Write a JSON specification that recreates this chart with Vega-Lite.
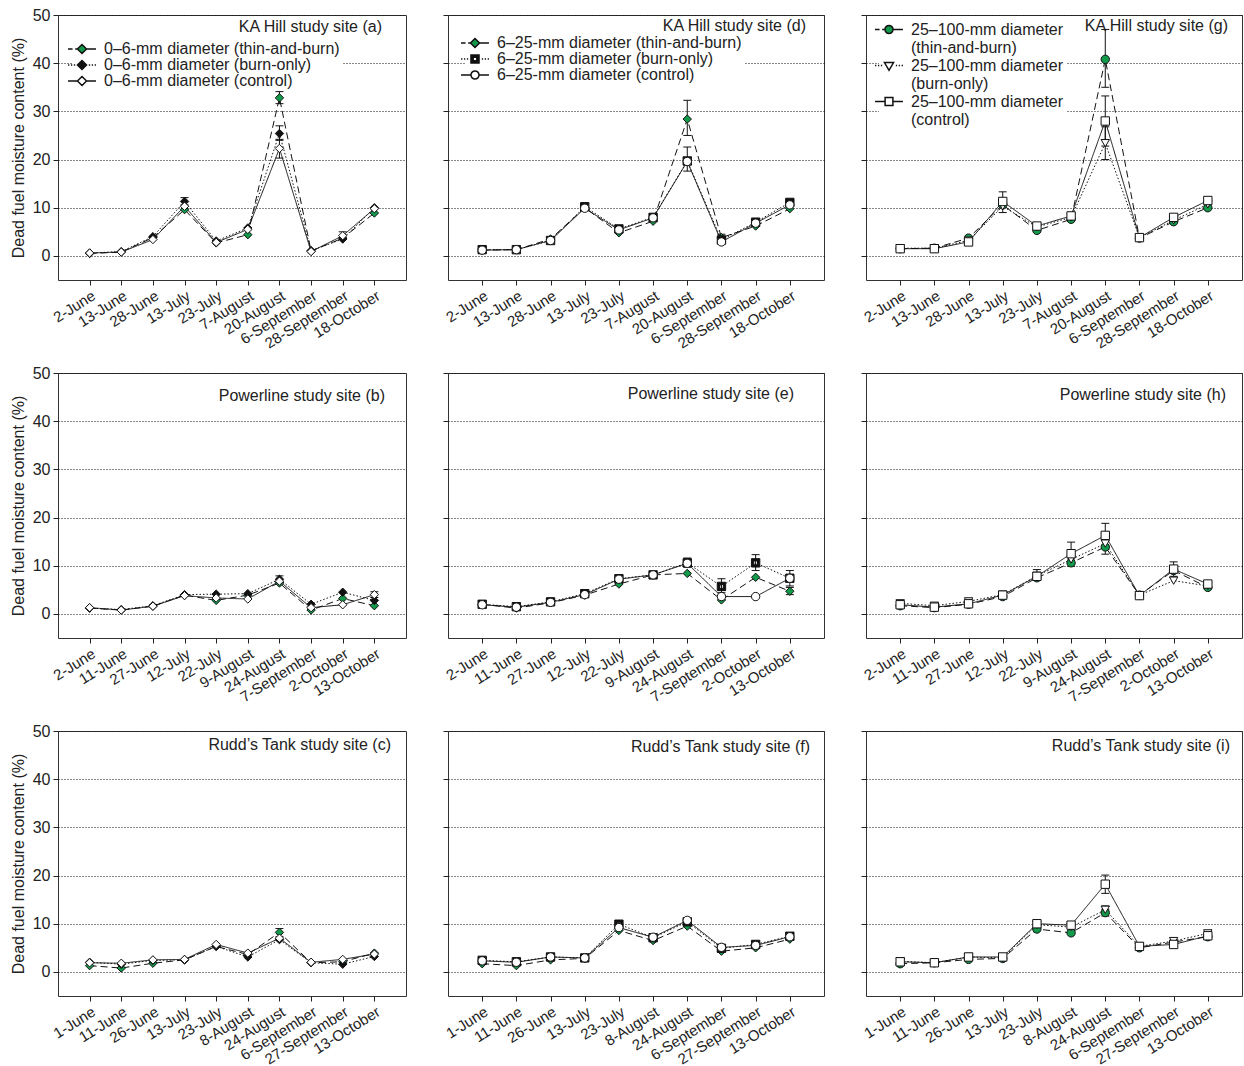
{
"$schema": "https://vega.github.io/schema/vega-lite/v6.json",
"padding": {"left": 9, "top": 6, "right": 0, "bottom": 0},
"background": "white",
"columns": 3,
"spacing": {"row": 93, "column": 42},
"bounds": "flush",
"resolve": {"scale": {"shape": "independent", "fill": "independent", "strokeDash": "independent"}, "legend": {"shape": "independent", "fill": "independent", "strokeDash": "independent"}},
"config": {
  "font": "Liberation Sans",
  "view": {"stroke": "#333", "strokeWidth": 1},
  "axis": {"domain": false, "tickColor": "#222", "tickSize": 5, "labelFont": "Liberation Sans", "labelColor": "#222", "labelFontSize": 16, "titleFont": "Liberation Sans", "titleFontSize": 16, "titleFontWeight": "normal", "titleColor": "#222", "labelPadding": 3, "titlePadding": 6},
  "axisX": {"labelAngle": -32, "labelFontSize": 15, "grid": false},
  "axisY": {"grid": true, "gridColor": "#111", "gridDash": [1, 2], "gridWidth": 1},
  "title": {"anchor": "end", "frame": "group", "orient": "top", "font": "Liberation Sans", "fontSize": 16, "fontWeight": "normal", "color": "#222", "baseline": "top", "offset": 0},
  "legend": {"labelFont": "Liberation Sans", "labelFontSize": 16, "labelColor": "#222", "labelLimit": 500, "symbolSize": 169, "labelOffset": 14, "padding": 2, "fillColor": "white"}
},
"datasets": {
"a": [
{"treatment":"thin-and-burn","date":"2-June","value":0.5},
{"treatment":"thin-and-burn","date":"13-June","value":0.8},
{"treatment":"thin-and-burn","date":"28-June","value":3.8},
{"treatment":"thin-and-burn","date":"13-July","value":9.6},
{"treatment":"thin-and-burn","date":"23-July","value":2.7},
{"treatment":"thin-and-burn","date":"7-August","value":4.4},
{"treatment":"thin-and-burn","date":"20-August","value":32.8,"lo":31.6,"hi":34.1},
{"treatment":"thin-and-burn","date":"6-September","value":1.0},
{"treatment":"thin-and-burn","date":"28-September","value":3.7},
{"treatment":"thin-and-burn","date":"18-October","value":8.9},
{"treatment":"burn-only","date":"2-June","value":0.6},
{"treatment":"burn-only","date":"13-June","value":0.9},
{"treatment":"burn-only","date":"28-June","value":4.0},
{"treatment":"burn-only","date":"13-July","value":11.3,"lo":10.6,"hi":12.1},
{"treatment":"burn-only","date":"23-July","value":3.1},
{"treatment":"burn-only","date":"7-August","value":5.8},
{"treatment":"burn-only","date":"20-August","value":25.4,"lo":24.0,"hi":27.0},
{"treatment":"burn-only","date":"6-September","value":1.1},
{"treatment":"burn-only","date":"28-September","value":3.5},
{"treatment":"burn-only","date":"18-October","value":10.0},
{"treatment":"control","date":"2-June","value":0.6},
{"treatment":"control","date":"13-June","value":0.8},
{"treatment":"control","date":"28-June","value":3.4},
{"treatment":"control","date":"13-July","value":10.3},
{"treatment":"control","date":"23-July","value":2.8},
{"treatment":"control","date":"7-August","value":5.5},
{"treatment":"control","date":"20-August","value":22.3,"lo":20.3,"hi":24.2},
{"treatment":"control","date":"6-September","value":0.9},
{"treatment":"control","date":"28-September","value":4.2,"lo":3.4,"hi":5.0},
{"treatment":"control","date":"18-October","value":9.8}
],
"d": [
{"treatment":"thin-and-burn","date":"2-June","value":1.2},
{"treatment":"thin-and-burn","date":"13-June","value":1.3},
{"treatment":"thin-and-burn","date":"28-June","value":3.5},
{"treatment":"thin-and-burn","date":"13-July","value":10.0},
{"treatment":"thin-and-burn","date":"23-July","value":4.8},
{"treatment":"thin-and-burn","date":"7-August","value":7.2},
{"treatment":"thin-and-burn","date":"20-August","value":28.4,"lo":25.0,"hi":32.3},
{"treatment":"thin-and-burn","date":"6-September","value":3.8,"lo":3.2,"hi":4.5},
{"treatment":"thin-and-burn","date":"28-September","value":6.2},
{"treatment":"thin-and-burn","date":"18-October","value":9.8},
{"treatment":"burn-only","date":"2-June","value":1.3},
{"treatment":"burn-only","date":"13-June","value":1.3},
{"treatment":"burn-only","date":"28-June","value":3.2},
{"treatment":"burn-only","date":"13-July","value":10.2},
{"treatment":"burn-only","date":"23-July","value":5.6},
{"treatment":"burn-only","date":"7-August","value":8.0},
{"treatment":"burn-only","date":"20-August","value":19.7,"lo":17.6,"hi":22.6},
{"treatment":"burn-only","date":"6-September","value":3.3},
{"treatment":"burn-only","date":"28-September","value":7.0},
{"treatment":"burn-only","date":"18-October","value":11.1},
{"treatment":"control","date":"2-June","value":1.2},
{"treatment":"control","date":"13-June","value":1.3},
{"treatment":"control","date":"28-June","value":3.2},
{"treatment":"control","date":"13-July","value":9.9},
{"treatment":"control","date":"23-July","value":5.4},
{"treatment":"control","date":"7-August","value":7.9},
{"treatment":"control","date":"20-August","value":19.6},
{"treatment":"control","date":"6-September","value":2.9},
{"treatment":"control","date":"28-September","value":6.8},
{"treatment":"control","date":"18-October","value":10.6}
],
"g": [
{"treatment":"thin-and-burn","date":"2-June","value":1.5},
{"treatment":"thin-and-burn","date":"13-June","value":1.6},
{"treatment":"thin-and-burn","date":"28-June","value":3.7},
{"treatment":"thin-and-burn","date":"13-July","value":10.6},
{"treatment":"thin-and-burn","date":"23-July","value":5.3},
{"treatment":"thin-and-burn","date":"7-August","value":7.6},
{"treatment":"thin-and-burn","date":"20-August","value":40.8,"lo":35.0,"hi":47.0},
{"treatment":"thin-and-burn","date":"6-September","value":3.7},
{"treatment":"thin-and-burn","date":"28-September","value":7.1},
{"treatment":"thin-and-burn","date":"18-October","value":10.0},
{"treatment":"burn-only","date":"2-June","value":1.6},
{"treatment":"burn-only","date":"13-June","value":1.6},
{"treatment":"burn-only","date":"28-June","value":3.2},
{"treatment":"burn-only","date":"13-July","value":10.3},
{"treatment":"burn-only","date":"23-July","value":6.0},
{"treatment":"burn-only","date":"7-August","value":8.0},
{"treatment":"burn-only","date":"20-August","value":23.4,"lo":20.0,"hi":26.8},
{"treatment":"burn-only","date":"6-September","value":3.8},
{"treatment":"burn-only","date":"28-September","value":7.4},
{"treatment":"burn-only","date":"18-October","value":10.7},
{"treatment":"control","date":"2-June","value":1.5},
{"treatment":"control","date":"13-June","value":1.5},
{"treatment":"control","date":"28-June","value":2.9},
{"treatment":"control","date":"13-July","value":11.3,"lo":9.0,"hi":13.3},
{"treatment":"control","date":"23-July","value":6.2},
{"treatment":"control","date":"7-August","value":8.3},
{"treatment":"control","date":"20-August","value":28.0,"lo":22.8,"hi":33.2},
{"treatment":"control","date":"6-September","value":3.8},
{"treatment":"control","date":"28-September","value":8.0},
{"treatment":"control","date":"18-October","value":11.5}
],
"b": [
{"treatment":"thin-and-burn","date":"2-June","value":1.2},
{"treatment":"thin-and-burn","date":"11-June","value":0.8},
{"treatment":"thin-and-burn","date":"27-June","value":1.6},
{"treatment":"thin-and-burn","date":"12-July","value":3.9},
{"treatment":"thin-and-burn","date":"22-July","value":2.8},
{"treatment":"thin-and-burn","date":"9-August","value":3.9},
{"treatment":"thin-and-burn","date":"24-August","value":6.4},
{"treatment":"thin-and-burn","date":"7-September","value":0.8},
{"treatment":"thin-and-burn","date":"2-October","value":3.2},
{"treatment":"thin-and-burn","date":"13-October","value":1.7},
{"treatment":"burn-only","date":"2-June","value":1.2},
{"treatment":"burn-only","date":"11-June","value":0.9},
{"treatment":"burn-only","date":"27-June","value":1.7},
{"treatment":"burn-only","date":"12-July","value":4.0},
{"treatment":"burn-only","date":"22-July","value":4.1},
{"treatment":"burn-only","date":"9-August","value":4.2},
{"treatment":"burn-only","date":"24-August","value":7.2,"lo":6.6,"hi":7.9},
{"treatment":"burn-only","date":"7-September","value":2.0},
{"treatment":"burn-only","date":"2-October","value":4.5},
{"treatment":"burn-only","date":"13-October","value":2.8},
{"treatment":"control","date":"2-June","value":1.3},
{"treatment":"control","date":"11-June","value":0.8},
{"treatment":"control","date":"27-June","value":1.6},
{"treatment":"control","date":"12-July","value":3.8},
{"treatment":"control","date":"22-July","value":3.3},
{"treatment":"control","date":"9-August","value":3.1},
{"treatment":"control","date":"24-August","value":6.8},
{"treatment":"control","date":"7-September","value":1.3},
{"treatment":"control","date":"2-October","value":1.9},
{"treatment":"control","date":"13-October","value":4.0,"lo":3.4,"hi":4.6}
],
"e": [
{"treatment":"thin-and-burn","date":"2-June","value":2.0},
{"treatment":"thin-and-burn","date":"11-June","value":1.2},
{"treatment":"thin-and-burn","date":"27-June","value":2.3},
{"treatment":"thin-and-burn","date":"12-July","value":3.9},
{"treatment":"thin-and-burn","date":"22-July","value":6.2},
{"treatment":"thin-and-burn","date":"9-August","value":8.1},
{"treatment":"thin-and-burn","date":"24-August","value":8.4},
{"treatment":"thin-and-burn","date":"7-September","value":2.9},
{"treatment":"thin-and-burn","date":"2-October","value":7.6},
{"treatment":"thin-and-burn","date":"13-October","value":4.7,"lo":4.0,"hi":5.5},
{"treatment":"burn-only","date":"2-June","value":2.0},
{"treatment":"burn-only","date":"11-June","value":1.5},
{"treatment":"burn-only","date":"27-June","value":2.5},
{"treatment":"burn-only","date":"12-July","value":4.2},
{"treatment":"burn-only","date":"22-July","value":7.3},
{"treatment":"burn-only","date":"9-August","value":8.1},
{"treatment":"burn-only","date":"24-August","value":10.6,"lo":9.7,"hi":11.6},
{"treatment":"burn-only","date":"7-September","value":5.7,"lo":4.4,"hi":7.3},
{"treatment":"burn-only","date":"2-October","value":10.6,"lo":9.0,"hi":12.3},
{"treatment":"burn-only","date":"13-October","value":7.4,"lo":5.8,"hi":9.0},
{"treatment":"control","date":"2-June","value":1.9},
{"treatment":"control","date":"11-June","value":1.4},
{"treatment":"control","date":"27-June","value":2.4},
{"treatment":"control","date":"12-July","value":4.0},
{"treatment":"control","date":"22-July","value":7.2},
{"treatment":"control","date":"9-August","value":8.1},
{"treatment":"control","date":"24-August","value":10.5},
{"treatment":"control","date":"7-September","value":3.6},
{"treatment":"control","date":"2-October","value":3.6},
{"treatment":"control","date":"13-October","value":7.4}
],
"h": [
{"treatment":"thin-and-burn","date":"2-June","value":1.7},
{"treatment":"thin-and-burn","date":"11-June","value":1.3},
{"treatment":"thin-and-burn","date":"27-June","value":2.0},
{"treatment":"thin-and-burn","date":"12-July","value":3.6},
{"treatment":"thin-and-burn","date":"22-July","value":7.5},
{"treatment":"thin-and-burn","date":"9-August","value":10.6,"lo":9.9,"hi":11.4},
{"treatment":"thin-and-burn","date":"24-August","value":13.9,"lo":12.4,"hi":15.3},
{"treatment":"thin-and-burn","date":"7-September","value":3.9},
{"treatment":"thin-and-burn","date":"2-October","value":9.0},
{"treatment":"thin-and-burn","date":"13-October","value":5.5},
{"treatment":"burn-only","date":"2-June","value":2.2},
{"treatment":"burn-only","date":"11-June","value":1.7},
{"treatment":"burn-only","date":"27-June","value":2.6},
{"treatment":"burn-only","date":"12-July","value":4.0},
{"treatment":"burn-only","date":"22-July","value":7.9,"lo":7.0,"hi":9.2},
{"treatment":"burn-only","date":"9-August","value":11.3},
{"treatment":"burn-only","date":"24-August","value":14.6},
{"treatment":"burn-only","date":"7-September","value":3.9},
{"treatment":"burn-only","date":"2-October","value":6.9},
{"treatment":"burn-only","date":"13-October","value":5.8},
{"treatment":"control","date":"2-June","value":1.9},
{"treatment":"control","date":"11-June","value":1.4},
{"treatment":"control","date":"27-June","value":2.1},
{"treatment":"control","date":"12-July","value":3.9},
{"treatment":"control","date":"22-July","value":7.8},
{"treatment":"control","date":"9-August","value":12.5,"lo":10.3,"hi":14.9},
{"treatment":"control","date":"24-August","value":16.3,"lo":13.8,"hi":18.8},
{"treatment":"control","date":"7-September","value":3.8},
{"treatment":"control","date":"2-October","value":9.3,"lo":7.8,"hi":10.8},
{"treatment":"control","date":"13-October","value":6.2}
],
"c": [
{"treatment":"thin-and-burn","date":"1-June","value":1.3},
{"treatment":"thin-and-burn","date":"11-June","value":0.8},
{"treatment":"thin-and-burn","date":"26-June","value":1.8},
{"treatment":"thin-and-burn","date":"13-July","value":2.5},
{"treatment":"thin-and-burn","date":"23-July","value":5.3},
{"treatment":"thin-and-burn","date":"8-August","value":3.6},
{"treatment":"thin-and-burn","date":"24-August","value":8.2,"lo":7.3,"hi":9.0},
{"treatment":"thin-and-burn","date":"6-September","value":1.9},
{"treatment":"thin-and-burn","date":"27-September","value":2.1},
{"treatment":"thin-and-burn","date":"13-October","value":3.9},
{"treatment":"burn-only","date":"1-June","value":2.0},
{"treatment":"burn-only","date":"11-June","value":1.6},
{"treatment":"burn-only","date":"26-June","value":2.4},
{"treatment":"burn-only","date":"13-July","value":2.5},
{"treatment":"burn-only","date":"23-July","value":5.3},
{"treatment":"burn-only","date":"8-August","value":3.1},
{"treatment":"burn-only","date":"24-August","value":6.7},
{"treatment":"burn-only","date":"6-September","value":1.9},
{"treatment":"burn-only","date":"27-September","value":1.6},
{"treatment":"burn-only","date":"13-October","value":3.2},
{"treatment":"control","date":"1-June","value":1.9},
{"treatment":"control","date":"11-June","value":1.8},
{"treatment":"control","date":"26-June","value":2.5},
{"treatment":"control","date":"13-July","value":2.6},
{"treatment":"control","date":"23-July","value":5.7},
{"treatment":"control","date":"8-August","value":3.9},
{"treatment":"control","date":"24-August","value":7.0},
{"treatment":"control","date":"6-September","value":2.0},
{"treatment":"control","date":"27-September","value":2.6},
{"treatment":"control","date":"13-October","value":3.7}
],
"f": [
{"treatment":"thin-and-burn","date":"1-June","value":1.7},
{"treatment":"thin-and-burn","date":"11-June","value":1.3},
{"treatment":"thin-and-burn","date":"26-June","value":2.5},
{"treatment":"thin-and-burn","date":"13-July","value":2.8},
{"treatment":"thin-and-burn","date":"23-July","value":8.6},
{"treatment":"thin-and-burn","date":"8-August","value":6.5},
{"treatment":"thin-and-burn","date":"24-August","value":9.5},
{"treatment":"thin-and-burn","date":"6-September","value":4.3},
{"treatment":"thin-and-burn","date":"27-September","value":5.0},
{"treatment":"thin-and-burn","date":"13-October","value":6.8},
{"treatment":"burn-only","date":"1-June","value":2.4},
{"treatment":"burn-only","date":"11-June","value":2.1},
{"treatment":"burn-only","date":"26-June","value":3.1},
{"treatment":"burn-only","date":"13-July","value":2.9},
{"treatment":"burn-only","date":"23-July","value":9.9},
{"treatment":"burn-only","date":"8-August","value":7.1},
{"treatment":"burn-only","date":"24-August","value":10.4},
{"treatment":"burn-only","date":"6-September","value":4.9},
{"treatment":"burn-only","date":"27-September","value":5.7},
{"treatment":"burn-only","date":"13-October","value":7.4},
{"treatment":"control","date":"1-June","value":2.3},
{"treatment":"control","date":"11-June","value":2.0},
{"treatment":"control","date":"26-June","value":3.1},
{"treatment":"control","date":"13-July","value":2.9},
{"treatment":"control","date":"23-July","value":9.2},
{"treatment":"control","date":"8-August","value":7.2},
{"treatment":"control","date":"24-August","value":10.7},
{"treatment":"control","date":"6-September","value":5.1},
{"treatment":"control","date":"27-September","value":5.5},
{"treatment":"control","date":"13-October","value":7.3}
],
"i": [
{"treatment":"thin-and-burn","date":"1-June","value":1.7},
{"treatment":"thin-and-burn","date":"11-June","value":1.9},
{"treatment":"thin-and-burn","date":"26-June","value":2.6},
{"treatment":"thin-and-burn","date":"13-July","value":2.8},
{"treatment":"thin-and-burn","date":"23-July","value":8.9},
{"treatment":"thin-and-burn","date":"8-August","value":8.1},
{"treatment":"thin-and-burn","date":"24-August","value":12.3,"lo":11.6,"hi":13.0},
{"treatment":"thin-and-burn","date":"6-September","value":5.0},
{"treatment":"thin-and-burn","date":"27-September","value":6.2},
{"treatment":"thin-and-burn","date":"13-October","value":7.3},
{"treatment":"burn-only","date":"1-June","value":2.2},
{"treatment":"burn-only","date":"11-June","value":1.9},
{"treatment":"burn-only","date":"26-June","value":3.1},
{"treatment":"burn-only","date":"13-July","value":2.9},
{"treatment":"burn-only","date":"23-July","value":9.8},
{"treatment":"burn-only","date":"8-August","value":9.3},
{"treatment":"burn-only","date":"24-August","value":12.9,"lo":12.1,"hi":13.7},
{"treatment":"burn-only","date":"6-September","value":5.3},
{"treatment":"burn-only","date":"27-September","value":6.4},
{"treatment":"burn-only","date":"13-October","value":8.0},
{"treatment":"control","date":"1-June","value":2.1},
{"treatment":"control","date":"11-June","value":1.9},
{"treatment":"control","date":"26-June","value":3.1},
{"treatment":"control","date":"13-July","value":3.1},
{"treatment":"control","date":"23-July","value":10.0},
{"treatment":"control","date":"8-August","value":9.7},
{"treatment":"control","date":"24-August","value":18.2,"lo":16.3,"hi":20.1},
{"treatment":"control","date":"6-September","value":5.3},
{"treatment":"control","date":"27-September","value":5.7},
{"treatment":"control","date":"13-October","value":7.5}
]
},
"concat": [
{
 "width": 348, "height": 265,
 "data": {"name": "a"},
 "title": {"text": "KA Hill study site (a)", "dx": -24, "dy": 31.5},
 "resolve": {"scale": {"shape": "independent", "fill": "independent"}},
 "encoding": {
  "x": {"field": "date", "type": "ordinal", "scale": {"type": "point", "padding": 1, "domain": ["2-June","13-June","28-June","13-July","23-July","7-August","20-August","6-September","28-September","18-October"]}, "axis": {"title": null}}
 },
 "layer": [
  {"mark": {"type": "line", "color": "#111", "strokeWidth": 1}, "encoding": {"y": {"field": "value", "type": "quantitative", "scale": {"domain": [-5, 50], "nice": false, "zero": false}, "axis": {"title": "Dead fuel moisture content (%)", "values": [0, 10, 20, 30, 40, 50]}}, "strokeDash": {"field": "treatment", "type": "nominal", "scale": {"domain": ["burn-only","control","thin-and-burn"], "range": [[1.5,2],[1,0],[7,4]]}, "legend": null}, "order": {"value": null}}},
  {"transform": [{"filter": "isValid(datum.lo)"}], "mark": {"type": "rule", "color": "#111", "strokeWidth": 1}, "encoding": {"y": {"field": "lo", "type": "quantitative", "scale": {"domain": [-5, 50], "nice": false, "zero": false}, "axis": {"title": "Dead fuel moisture content (%)", "values": [0, 10, 20, 30, 40, 50]}}, "y2": {"field": "hi"}}},
  {"transform": [{"filter": "isValid(datum.lo)"}], "mark": {"type": "tick", "color": "#111", "thickness": 1, "size": 8, "opacity": 1}, "encoding": {"y": {"field": "lo", "type": "quantitative", "scale": {"domain": [-5, 50], "nice": false, "zero": false}, "axis": {"title": "Dead fuel moisture content (%)", "values": [0, 10, 20, 30, 40, 50]}}}},
  {"transform": [{"filter": "isValid(datum.hi)"}], "mark": {"type": "tick", "color": "#111", "thickness": 1, "size": 8, "opacity": 1}, "encoding": {"y": {"field": "hi", "type": "quantitative", "scale": {"domain": [-5, 50], "nice": false, "zero": false}, "axis": {"title": "Dead fuel moisture content (%)", "values": [0, 10, 20, 30, 40, 50]}}}},
  {"mark": {"type": "point", "filled": true, "size": 70, "stroke": "#111", "strokeWidth": 1, "opacity": 1}, "encoding": {
    "y": {"field": "value", "type": "quantitative", "scale": {"domain": [-5, 50], "nice": false, "zero": false}, "axis": {"title": "Dead fuel moisture content (%)", "values": [0, 10, 20, 30, 40, 50]}},
    "shape": {"field": "treatment", "type": "nominal", "scale": {"domain": ["burn-only","control","thin-and-burn"], "range": ["diamond","diamond","diamond"]}, "legend": null},
    "fill": {"field": "treatment", "type": "nominal", "scale": {"domain": ["burn-only","control","thin-and-burn"], "range": ["#111111","#ffffff","#12994a"]}, "legend": null}}},
  {"transform": [{"filter": "false"}], "mark": {"type": "point", "filled": true, "size": 169, "stroke": "#111", "strokeWidth": 1, "opacity": 1}, "encoding": {
    "shape": {"field": "treatment", "type": "nominal", "scale": {"domain": ["thin-and-burn","burn-only","control"], "range": ["M-2.15,0H-1.45M-1.05,0H-0.7M0.7,0H2.15M0,-0.7L0.7,0L0,0.7L-0.7,0Z","M-2.15,0H-1.95M-1.7,0H-1.5M-1.25,0H-1.05M1.05,0H1.25M1.5,0H1.7M1.95,0H2.15M0,-0.7L0.7,0L0,0.7L-0.7,0Z","M-2.15,0H-0.7M0.7,0H2.15M0,-0.7L0.7,0L0,0.7L-0.7,0Z"]},
      "legend": {"title": null, "orient": "none", "legendX": 14, "legendY": 24, "rowPadding": -4, "labelExpr": "'0–6-mm diameter (' + datum.label + ')'"}},
    "fill": {"field": "treatment", "type": "nominal", "scale": {"domain": ["thin-and-burn","burn-only","control"], "range": ["#12994a","#111111","#ffffff"]},
      "legend": {"title": null, "orient": "none", "legendX": 14, "legendY": 24, "rowPadding": -4, "labelExpr": "'0–6-mm diameter (' + datum.label + ')'"}}}}
 ]
},
{
 "width": 376, "height": 265,
 "data": {"name": "d"},
 "title": {"text": "KA Hill study site (d)", "dx": -18, "dy": 23},
 "resolve": {"scale": {"shape": "independent", "fill": "independent"}},
 "encoding": {
  "x": {"field": "date", "type": "ordinal", "scale": {"type": "point", "padding": 1, "domain": ["2-June","13-June","28-June","13-July","23-July","7-August","20-August","6-September","28-September","18-October"]}, "axis": {"title": null}}
 },
 "layer": [
  {"mark": {"type": "line", "color": "#111", "strokeWidth": 1}, "encoding": {"y": {"field": "value", "type": "quantitative", "scale": {"domain": [-5, 50], "nice": false, "zero": false}, "axis": {"title": null, "labels": false, "values": [0, 10, 20, 30, 40, 50]}}, "strokeDash": {"field": "treatment", "type": "nominal", "scale": {"domain": ["burn-only","control","thin-and-burn"], "range": [[1.5,2],[1,0],[7,4]]}, "legend": null}, "order": {"value": null}}},
  {"transform": [{"filter": "isValid(datum.lo)"}], "mark": {"type": "rule", "color": "#111", "strokeWidth": 1}, "encoding": {"y": {"field": "lo", "type": "quantitative", "scale": {"domain": [-5, 50], "nice": false, "zero": false}, "axis": {"title": null, "labels": false, "values": [0, 10, 20, 30, 40, 50]}}, "y2": {"field": "hi"}}},
  {"transform": [{"filter": "isValid(datum.lo)"}], "mark": {"type": "tick", "color": "#111", "thickness": 1, "size": 8, "opacity": 1}, "encoding": {"y": {"field": "lo", "type": "quantitative", "scale": {"domain": [-5, 50], "nice": false, "zero": false}, "axis": {"title": null, "labels": false, "values": [0, 10, 20, 30, 40, 50]}}}},
  {"transform": [{"filter": "isValid(datum.hi)"}], "mark": {"type": "tick", "color": "#111", "thickness": 1, "size": 8, "opacity": 1}, "encoding": {"y": {"field": "hi", "type": "quantitative", "scale": {"domain": [-5, 50], "nice": false, "zero": false}, "axis": {"title": null, "labels": false, "values": [0, 10, 20, 30, 40, 50]}}}},
  {"mark": {"type": "point", "filled": true, "size": 70, "stroke": "#111", "strokeWidth": 1, "opacity": 1}, "encoding": {
    "y": {"field": "value", "type": "quantitative", "scale": {"domain": [-5, 50], "nice": false, "zero": false}, "axis": {"title": null, "labels": false, "values": [0, 10, 20, 30, 40, 50]}},
    "shape": {"field": "treatment", "type": "nominal", "scale": {"domain": ["burn-only","control","thin-and-burn"], "range": ["M-1,-1H1V1H-1ZM-0.45,-0.45V0.45H0.45V-0.45Z","circle","diamond"]}, "legend": null},
    "fill": {"field": "treatment", "type": "nominal", "scale": {"domain": ["burn-only","control","thin-and-burn"], "range": ["#111111","#ffffff","#12994a"]}, "legend": null}}},
  {"transform": [{"filter": "false"}], "mark": {"type": "point", "filled": true, "size": 169, "stroke": "#111", "strokeWidth": 1, "opacity": 1}, "encoding": {
    "shape": {"field": "treatment", "type": "nominal", "scale": {"domain": ["thin-and-burn","burn-only","control"], "range": ["M-2.15,0H-1.45M-1.05,0H-0.7M0.7,0H2.15M0,-0.7L0.7,0L0,0.7L-0.7,0Z","M-2.15,0H-1.95M-1.7,0H-1.5M-1.25,0H-1.05M1.05,0H1.25M1.5,0H1.7M1.95,0H2.15M-0.62,-0.62H0.62V0.62H-0.62ZM-0.28,-0.28V0.28H0.28V-0.28Z","M-2.15,0H-0.62M0.62,0H2.15M0.62,0A0.62,0.62,0,1,1,-0.62,0A0.62,0.62,0,1,1,0.62,0Z"]},
      "legend": {"title": null, "orient": "none", "legendX": 17, "legendY": 18, "rowPadding": -1.5, "labelExpr": "'6–25-mm diameter (' + datum.label + ')'"}},
    "fill": {"field": "treatment", "type": "nominal", "scale": {"domain": ["thin-and-burn","burn-only","control"], "range": ["#12994a","#111111","#ffffff"]},
      "legend": {"title": null, "orient": "none", "legendX": 17, "legendY": 18, "rowPadding": -1.5, "labelExpr": "'6–25-mm diameter (' + datum.label + ')'"}}}}
 ]
},
{
 "width": 376, "height": 265,
 "data": {"name": "g"},
 "title": {"text": "KA Hill study site (g)", "dx": -14, "dy": 23},
 "resolve": {"scale": {"shape": "independent", "fill": "independent"}},
 "encoding": {
  "x": {"field": "date", "type": "ordinal", "scale": {"type": "point", "padding": 1, "domain": ["2-June","13-June","28-June","13-July","23-July","7-August","20-August","6-September","28-September","18-October"]}, "axis": {"title": null}}
 },
 "layer": [
  {"mark": {"type": "line", "color": "#111", "strokeWidth": 1}, "encoding": {"y": {"field": "value", "type": "quantitative", "scale": {"domain": [-5, 50], "nice": false, "zero": false}, "axis": {"title": null, "labels": false, "values": [0, 10, 20, 30, 40, 50]}}, "strokeDash": {"field": "treatment", "type": "nominal", "scale": {"domain": ["burn-only","control","thin-and-burn"], "range": [[1.5,2],[1,0],[7,4]]}, "legend": null}, "order": {"value": null}}},
  {"transform": [{"filter": "isValid(datum.lo)"}], "mark": {"type": "rule", "color": "#111", "strokeWidth": 1}, "encoding": {"y": {"field": "lo", "type": "quantitative", "scale": {"domain": [-5, 50], "nice": false, "zero": false}, "axis": {"title": null, "labels": false, "values": [0, 10, 20, 30, 40, 50]}}, "y2": {"field": "hi"}}},
  {"transform": [{"filter": "isValid(datum.lo)"}], "mark": {"type": "tick", "color": "#111", "thickness": 1, "size": 8, "opacity": 1}, "encoding": {"y": {"field": "lo", "type": "quantitative", "scale": {"domain": [-5, 50], "nice": false, "zero": false}, "axis": {"title": null, "labels": false, "values": [0, 10, 20, 30, 40, 50]}}}},
  {"transform": [{"filter": "isValid(datum.hi)"}], "mark": {"type": "tick", "color": "#111", "thickness": 1, "size": 8, "opacity": 1}, "encoding": {"y": {"field": "hi", "type": "quantitative", "scale": {"domain": [-5, 50], "nice": false, "zero": false}, "axis": {"title": null, "labels": false, "values": [0, 10, 20, 30, 40, 50]}}}},
  {"mark": {"type": "point", "filled": true, "size": 70, "stroke": "#111", "strokeWidth": 1, "opacity": 1}, "encoding": {
    "y": {"field": "value", "type": "quantitative", "scale": {"domain": [-5, 50], "nice": false, "zero": false}, "axis": {"title": null, "labels": false, "values": [0, 10, 20, 30, 40, 50]}},
    "shape": {"field": "treatment", "type": "nominal", "scale": {"domain": ["burn-only","control","thin-and-burn"], "range": ["triangle-down","square","circle"]}, "legend": null},
    "fill": {"field": "treatment", "type": "nominal", "scale": {"domain": ["burn-only","control","thin-and-burn"], "range": ["#ffffff","#ffffff","#12994a"]}, "legend": null}}},
  {"transform": [{"filter": "false"}], "mark": {"type": "point", "filled": true, "size": 169, "stroke": "#111", "strokeWidth": 1, "opacity": 1}, "encoding": {
    "shape": {"field": "treatment", "type": "nominal", "scale": {"domain": ["thin-and-burn","burn-only","control"], "range": ["M-2.15,0H-1.45M-1.05,0H-0.62M0.62,0H2.15M0.62,0A0.62,0.62,0,1,1,-0.62,0A0.62,0.62,0,1,1,0.62,0Z","M-2.15,0H-1.95M-1.7,0H-1.5M-1.25,0H-1.05M1.05,0H1.25M1.5,0H1.7M1.95,0H2.15M-0.7,-0.45H0.7L0,0.75Z","M-2.15,0H-0.6M0.6,0H2.15M-0.6,-0.6H0.6V0.6H-0.6Z"]},
      "legend": {"title": null, "orient": "none", "legendX": 13, "legendY": 4.5, "rowPadding": 2, "labelExpr": "['25–100-mm diameter', '(' + datum.label + ')']", "encode": {"labels": {"dy": {"value": 9.5}, "lineHeight": {"value": 19}}}}},
    "fill": {"field": "treatment", "type": "nominal", "scale": {"domain": ["thin-and-burn","burn-only","control"], "range": ["#12994a","#ffffff","#ffffff"]},
      "legend": {"title": null, "orient": "none", "legendX": 13, "legendY": 4.5, "rowPadding": 2, "labelExpr": "['25–100-mm diameter', '(' + datum.label + ')']", "encode": {"labels": {"dy": {"value": 9.5}, "lineHeight": {"value": 19}}}}}}}
 ]
},
{
 "width": 348, "height": 265,
 "data": {"name": "b"},
 "title": {"text": "Powerline study site (b)", "dx": -21, "dy": 42.7},
 "encoding": {
  "x": {"field": "date", "type": "ordinal", "scale": {"type": "point", "padding": 1, "domain": ["2-June","11-June","27-June","12-July","22-July","9-August","24-August","7-September","2-October","13-October"]}, "axis": {"title": null}}
 },
 "layer": [
  {"mark": {"type": "line", "color": "#111", "strokeWidth": 1}, "encoding": {"y": {"field": "value", "type": "quantitative", "scale": {"domain": [-5, 50], "nice": false, "zero": false}, "axis": {"title": "Dead fuel moisture content (%)", "values": [0, 10, 20, 30, 40, 50]}}, "strokeDash": {"field": "treatment", "type": "nominal", "scale": {"domain": ["thin-and-burn","burn-only","control"], "range": [[7,4],[1.5,2],[1,0]]}, "legend": null}, "order": {"value": null}}},
  {"transform": [{"filter": "isValid(datum.lo)"}], "mark": {"type": "rule", "color": "#111", "strokeWidth": 1}, "encoding": {"y": {"field": "lo", "type": "quantitative", "scale": {"domain": [-5, 50], "nice": false, "zero": false}, "axis": {"title": "Dead fuel moisture content (%)", "values": [0, 10, 20, 30, 40, 50]}}, "y2": {"field": "hi"}}},
  {"transform": [{"filter": "isValid(datum.lo)"}], "mark": {"type": "tick", "color": "#111", "thickness": 1, "size": 8, "opacity": 1}, "encoding": {"y": {"field": "lo", "type": "quantitative", "scale": {"domain": [-5, 50], "nice": false, "zero": false}, "axis": {"title": "Dead fuel moisture content (%)", "values": [0, 10, 20, 30, 40, 50]}}}},
  {"transform": [{"filter": "isValid(datum.hi)"}], "mark": {"type": "tick", "color": "#111", "thickness": 1, "size": 8, "opacity": 1}, "encoding": {"y": {"field": "hi", "type": "quantitative", "scale": {"domain": [-5, 50], "nice": false, "zero": false}, "axis": {"title": "Dead fuel moisture content (%)", "values": [0, 10, 20, 30, 40, 50]}}}},
  {"mark": {"type": "point", "filled": true, "size": 70, "stroke": "#111", "strokeWidth": 1, "opacity": 1}, "encoding": {
    "y": {"field": "value", "type": "quantitative", "scale": {"domain": [-5, 50], "nice": false, "zero": false}, "axis": {"title": "Dead fuel moisture content (%)", "values": [0, 10, 20, 30, 40, 50]}},
    "shape": {"field": "treatment", "type": "nominal", "scale": {"domain": ["thin-and-burn","burn-only","control"], "range": ["diamond","diamond","diamond"]}, "legend": null},
    "fill": {"field": "treatment", "type": "nominal", "scale": {"domain": ["thin-and-burn","burn-only","control"], "range": ["#12994a","#111111","#ffffff"]}, "legend": null}}}
 ]
},
{
 "width": 376, "height": 265,
 "data": {"name": "e"},
 "title": {"text": "Powerline study site (e)", "dx": -30, "dy": 33.3},
 "encoding": {
  "x": {"field": "date", "type": "ordinal", "scale": {"type": "point", "padding": 1, "domain": ["2-June","11-June","27-June","12-July","22-July","9-August","24-August","7-September","2-October","13-October"]}, "axis": {"title": null}}
 },
 "layer": [
  {"mark": {"type": "line", "color": "#111", "strokeWidth": 1}, "encoding": {"y": {"field": "value", "type": "quantitative", "scale": {"domain": [-5, 50], "nice": false, "zero": false}, "axis": {"title": null, "labels": false, "values": [0, 10, 20, 30, 40, 50]}}, "strokeDash": {"field": "treatment", "type": "nominal", "scale": {"domain": ["thin-and-burn","burn-only","control"], "range": [[7,4],[1.5,2],[1,0]]}, "legend": null}, "order": {"value": null}}},
  {"transform": [{"filter": "isValid(datum.lo)"}], "mark": {"type": "rule", "color": "#111", "strokeWidth": 1}, "encoding": {"y": {"field": "lo", "type": "quantitative", "scale": {"domain": [-5, 50], "nice": false, "zero": false}, "axis": {"title": null, "labels": false, "values": [0, 10, 20, 30, 40, 50]}}, "y2": {"field": "hi"}}},
  {"transform": [{"filter": "isValid(datum.lo)"}], "mark": {"type": "tick", "color": "#111", "thickness": 1, "size": 8, "opacity": 1}, "encoding": {"y": {"field": "lo", "type": "quantitative", "scale": {"domain": [-5, 50], "nice": false, "zero": false}, "axis": {"title": null, "labels": false, "values": [0, 10, 20, 30, 40, 50]}}}},
  {"transform": [{"filter": "isValid(datum.hi)"}], "mark": {"type": "tick", "color": "#111", "thickness": 1, "size": 8, "opacity": 1}, "encoding": {"y": {"field": "hi", "type": "quantitative", "scale": {"domain": [-5, 50], "nice": false, "zero": false}, "axis": {"title": null, "labels": false, "values": [0, 10, 20, 30, 40, 50]}}}},
  {"mark": {"type": "point", "filled": true, "size": 70, "stroke": "#111", "strokeWidth": 1, "opacity": 1}, "encoding": {
    "y": {"field": "value", "type": "quantitative", "scale": {"domain": [-5, 50], "nice": false, "zero": false}, "axis": {"title": null, "labels": false, "values": [0, 10, 20, 30, 40, 50]}},
    "shape": {"field": "treatment", "type": "nominal", "scale": {"domain": ["thin-and-burn","burn-only","control"], "range": ["diamond","M-1,-1H1V1H-1ZM-0.45,-0.45V0.45H0.45V-0.45Z","circle"]}, "legend": null},
    "fill": {"field": "treatment", "type": "nominal", "scale": {"domain": ["thin-and-burn","burn-only","control"], "range": ["#12994a","#111111","#ffffff"]}, "legend": null}}}
 ]
},
{
 "width": 376, "height": 265,
 "data": {"name": "h"},
 "title": {"text": "Powerline study site (h)", "dx": -16, "dy": 34},
 "encoding": {
  "x": {"field": "date", "type": "ordinal", "scale": {"type": "point", "padding": 1, "domain": ["2-June","11-June","27-June","12-July","22-July","9-August","24-August","7-September","2-October","13-October"]}, "axis": {"title": null}}
 },
 "layer": [
  {"mark": {"type": "line", "color": "#111", "strokeWidth": 1}, "encoding": {"y": {"field": "value", "type": "quantitative", "scale": {"domain": [-5, 50], "nice": false, "zero": false}, "axis": {"title": null, "labels": false, "values": [0, 10, 20, 30, 40, 50]}}, "strokeDash": {"field": "treatment", "type": "nominal", "scale": {"domain": ["thin-and-burn","burn-only","control"], "range": [[7,4],[1.5,2],[1,0]]}, "legend": null}, "order": {"value": null}}},
  {"transform": [{"filter": "isValid(datum.lo)"}], "mark": {"type": "rule", "color": "#111", "strokeWidth": 1}, "encoding": {"y": {"field": "lo", "type": "quantitative", "scale": {"domain": [-5, 50], "nice": false, "zero": false}, "axis": {"title": null, "labels": false, "values": [0, 10, 20, 30, 40, 50]}}, "y2": {"field": "hi"}}},
  {"transform": [{"filter": "isValid(datum.lo)"}], "mark": {"type": "tick", "color": "#111", "thickness": 1, "size": 8, "opacity": 1}, "encoding": {"y": {"field": "lo", "type": "quantitative", "scale": {"domain": [-5, 50], "nice": false, "zero": false}, "axis": {"title": null, "labels": false, "values": [0, 10, 20, 30, 40, 50]}}}},
  {"transform": [{"filter": "isValid(datum.hi)"}], "mark": {"type": "tick", "color": "#111", "thickness": 1, "size": 8, "opacity": 1}, "encoding": {"y": {"field": "hi", "type": "quantitative", "scale": {"domain": [-5, 50], "nice": false, "zero": false}, "axis": {"title": null, "labels": false, "values": [0, 10, 20, 30, 40, 50]}}}},
  {"mark": {"type": "point", "filled": true, "size": 70, "stroke": "#111", "strokeWidth": 1, "opacity": 1}, "encoding": {
    "y": {"field": "value", "type": "quantitative", "scale": {"domain": [-5, 50], "nice": false, "zero": false}, "axis": {"title": null, "labels": false, "values": [0, 10, 20, 30, 40, 50]}},
    "shape": {"field": "treatment", "type": "nominal", "scale": {"domain": ["thin-and-burn","burn-only","control"], "range": ["circle","triangle-down","square"]}, "legend": null},
    "fill": {"field": "treatment", "type": "nominal", "scale": {"domain": ["thin-and-burn","burn-only","control"], "range": ["#12994a","#ffffff","#ffffff"]}, "legend": null}}}
 ]
},
{
 "width": 348, "height": 265,
 "data": {"name": "c"},
 "title": {"text": "Rudd’s Tank study site (c)", "dx": -15, "dy": 34.3},
 "encoding": {
  "x": {"field": "date", "type": "ordinal", "scale": {"type": "point", "padding": 1, "domain": ["1-June","11-June","26-June","13-July","23-July","8-August","24-August","6-September","27-September","13-October"]}, "axis": {"title": null}}
 },
 "layer": [
  {"mark": {"type": "line", "color": "#111", "strokeWidth": 1}, "encoding": {"y": {"field": "value", "type": "quantitative", "scale": {"domain": [-5, 50], "nice": false, "zero": false}, "axis": {"title": "Dead fuel moisture content (%)", "values": [0, 10, 20, 30, 40, 50]}}, "strokeDash": {"field": "treatment", "type": "nominal", "scale": {"domain": ["thin-and-burn","burn-only","control"], "range": [[7,4],[1.5,2],[1,0]]}, "legend": null}, "order": {"value": null}}},
  {"transform": [{"filter": "isValid(datum.lo)"}], "mark": {"type": "rule", "color": "#111", "strokeWidth": 1}, "encoding": {"y": {"field": "lo", "type": "quantitative", "scale": {"domain": [-5, 50], "nice": false, "zero": false}, "axis": {"title": "Dead fuel moisture content (%)", "values": [0, 10, 20, 30, 40, 50]}}, "y2": {"field": "hi"}}},
  {"transform": [{"filter": "isValid(datum.lo)"}], "mark": {"type": "tick", "color": "#111", "thickness": 1, "size": 8, "opacity": 1}, "encoding": {"y": {"field": "lo", "type": "quantitative", "scale": {"domain": [-5, 50], "nice": false, "zero": false}, "axis": {"title": "Dead fuel moisture content (%)", "values": [0, 10, 20, 30, 40, 50]}}}},
  {"transform": [{"filter": "isValid(datum.hi)"}], "mark": {"type": "tick", "color": "#111", "thickness": 1, "size": 8, "opacity": 1}, "encoding": {"y": {"field": "hi", "type": "quantitative", "scale": {"domain": [-5, 50], "nice": false, "zero": false}, "axis": {"title": "Dead fuel moisture content (%)", "values": [0, 10, 20, 30, 40, 50]}}}},
  {"mark": {"type": "point", "filled": true, "size": 70, "stroke": "#111", "strokeWidth": 1, "opacity": 1}, "encoding": {
    "y": {"field": "value", "type": "quantitative", "scale": {"domain": [-5, 50], "nice": false, "zero": false}, "axis": {"title": "Dead fuel moisture content (%)", "values": [0, 10, 20, 30, 40, 50]}},
    "shape": {"field": "treatment", "type": "nominal", "scale": {"domain": ["thin-and-burn","burn-only","control"], "range": ["diamond","diamond","diamond"]}, "legend": null},
    "fill": {"field": "treatment", "type": "nominal", "scale": {"domain": ["thin-and-burn","burn-only","control"], "range": ["#12994a","#111111","#ffffff"]}, "legend": null}}}
 ]
},
{
 "width": 376, "height": 265,
 "data": {"name": "f"},
 "title": {"text": "Rudd’s Tank study site (f)", "dx": -14, "dy": 28},
 "encoding": {
  "x": {"field": "date", "type": "ordinal", "scale": {"type": "point", "padding": 1, "domain": ["1-June","11-June","26-June","13-July","23-July","8-August","24-August","6-September","27-September","13-October"]}, "axis": {"title": null}}
 },
 "layer": [
  {"mark": {"type": "line", "color": "#111", "strokeWidth": 1}, "encoding": {"y": {"field": "value", "type": "quantitative", "scale": {"domain": [-5, 50], "nice": false, "zero": false}, "axis": {"title": null, "labels": false, "values": [0, 10, 20, 30, 40, 50]}}, "strokeDash": {"field": "treatment", "type": "nominal", "scale": {"domain": ["thin-and-burn","burn-only","control"], "range": [[7,4],[1.5,2],[1,0]]}, "legend": null}, "order": {"value": null}}},
  {"transform": [{"filter": "isValid(datum.lo)"}], "mark": {"type": "rule", "color": "#111", "strokeWidth": 1}, "encoding": {"y": {"field": "lo", "type": "quantitative", "scale": {"domain": [-5, 50], "nice": false, "zero": false}, "axis": {"title": null, "labels": false, "values": [0, 10, 20, 30, 40, 50]}}, "y2": {"field": "hi"}}},
  {"transform": [{"filter": "isValid(datum.lo)"}], "mark": {"type": "tick", "color": "#111", "thickness": 1, "size": 8, "opacity": 1}, "encoding": {"y": {"field": "lo", "type": "quantitative", "scale": {"domain": [-5, 50], "nice": false, "zero": false}, "axis": {"title": null, "labels": false, "values": [0, 10, 20, 30, 40, 50]}}}},
  {"transform": [{"filter": "isValid(datum.hi)"}], "mark": {"type": "tick", "color": "#111", "thickness": 1, "size": 8, "opacity": 1}, "encoding": {"y": {"field": "hi", "type": "quantitative", "scale": {"domain": [-5, 50], "nice": false, "zero": false}, "axis": {"title": null, "labels": false, "values": [0, 10, 20, 30, 40, 50]}}}},
  {"mark": {"type": "point", "filled": true, "size": 70, "stroke": "#111", "strokeWidth": 1, "opacity": 1}, "encoding": {
    "y": {"field": "value", "type": "quantitative", "scale": {"domain": [-5, 50], "nice": false, "zero": false}, "axis": {"title": null, "labels": false, "values": [0, 10, 20, 30, 40, 50]}},
    "shape": {"field": "treatment", "type": "nominal", "scale": {"domain": ["thin-and-burn","burn-only","control"], "range": ["diamond","M-1,-1H1V1H-1ZM-0.45,-0.45V0.45H0.45V-0.45Z","circle"]}, "legend": null},
    "fill": {"field": "treatment", "type": "nominal", "scale": {"domain": ["thin-and-burn","burn-only","control"], "range": ["#12994a","#111111","#ffffff"]}, "legend": null}}}
 ]
},
{
 "width": 376, "height": 265,
 "data": {"name": "i"},
 "title": {"text": "Rudd’s Tank study site (i)", "dx": -12, "dy": 27},
 "encoding": {
  "x": {"field": "date", "type": "ordinal", "scale": {"type": "point", "padding": 1, "domain": ["1-June","11-June","26-June","13-July","23-July","8-August","24-August","6-September","27-September","13-October"]}, "axis": {"title": null}}
 },
 "layer": [
  {"mark": {"type": "line", "color": "#111", "strokeWidth": 1}, "encoding": {"y": {"field": "value", "type": "quantitative", "scale": {"domain": [-5, 50], "nice": false, "zero": false}, "axis": {"title": null, "labels": false, "values": [0, 10, 20, 30, 40, 50]}}, "strokeDash": {"field": "treatment", "type": "nominal", "scale": {"domain": ["thin-and-burn","burn-only","control"], "range": [[7,4],[1.5,2],[1,0]]}, "legend": null}, "order": {"value": null}}},
  {"transform": [{"filter": "isValid(datum.lo)"}], "mark": {"type": "rule", "color": "#111", "strokeWidth": 1}, "encoding": {"y": {"field": "lo", "type": "quantitative", "scale": {"domain": [-5, 50], "nice": false, "zero": false}, "axis": {"title": null, "labels": false, "values": [0, 10, 20, 30, 40, 50]}}, "y2": {"field": "hi"}}},
  {"transform": [{"filter": "isValid(datum.lo)"}], "mark": {"type": "tick", "color": "#111", "thickness": 1, "size": 8, "opacity": 1}, "encoding": {"y": {"field": "lo", "type": "quantitative", "scale": {"domain": [-5, 50], "nice": false, "zero": false}, "axis": {"title": null, "labels": false, "values": [0, 10, 20, 30, 40, 50]}}}},
  {"transform": [{"filter": "isValid(datum.hi)"}], "mark": {"type": "tick", "color": "#111", "thickness": 1, "size": 8, "opacity": 1}, "encoding": {"y": {"field": "hi", "type": "quantitative", "scale": {"domain": [-5, 50], "nice": false, "zero": false}, "axis": {"title": null, "labels": false, "values": [0, 10, 20, 30, 40, 50]}}}},
  {"mark": {"type": "point", "filled": true, "size": 70, "stroke": "#111", "strokeWidth": 1, "opacity": 1}, "encoding": {
    "y": {"field": "value", "type": "quantitative", "scale": {"domain": [-5, 50], "nice": false, "zero": false}, "axis": {"title": null, "labels": false, "values": [0, 10, 20, 30, 40, 50]}},
    "shape": {"field": "treatment", "type": "nominal", "scale": {"domain": ["thin-and-burn","burn-only","control"], "range": ["circle","triangle-down","square"]}, "legend": null},
    "fill": {"field": "treatment", "type": "nominal", "scale": {"domain": ["thin-and-burn","burn-only","control"], "range": ["#12994a","#ffffff","#ffffff"]}, "legend": null}}}
 ]
}
]
}
